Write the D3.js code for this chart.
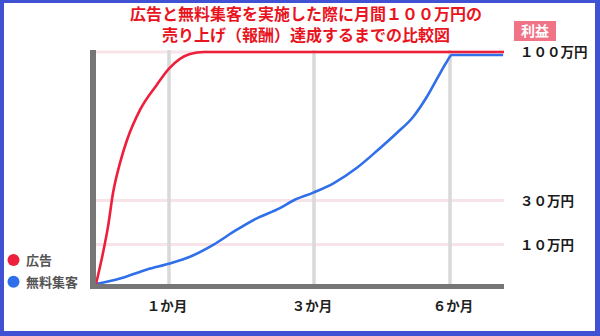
<!DOCTYPE html>
<html><head><meta charset="utf-8">
<script src="https://cdn.jsdelivr.net/npm/d3@7"></script>
<style>
html,body{margin:0;padding:0;background:#fff;}
svg{display:block;font-family:"Noto Sans CJK JP","Noto Sans",sans-serif;}
</style></head>
<body>
<svg id="c" width="600" height="336"></svg>
<script>
// ---- data ----
const titleLines = ["広告と無料集客を実施した際に月間１００万円の", "売り上げ（報酬）達成するまでの比較図"];
const seriesNames = ["広告", "無料集客"];
const xTickValues = [1, 3, 6];
const xTickLabels = ["１か月", "３か月", "６か月"];
const yTickValues = [10, 30, 100];
const yTickLabels = ["１０万円", "３０万円", "１００万円"];
const yAxisTitle = "利益";
// months, 万円
const adMonths =   [0, 0.096, 0.164, 0.233, 0.329, 0.425, 0.603, 0.832, 1.0, 1.29, 1.48, 7.2];
const adValues =   [0, 7.9, 18.0, 33.5, 47.7, 58.5, 72.7, 84.5, 92.2, 99.1, 100, 100];
const freeMonths = [0, 0.33, 0.70, 1.01, 1.29, 1.61, 1.93, 2.21, 2.53, 2.71, 2.99, 3.43, 3.94, 4.41, 4.82, 5.19, 5.49, 5.74, 5.93, 6.04, 7.18];
const freeValues = [0, 1.4, 3.7, 5.2, 6.9, 9.9, 16.6, 21.9, 26.5, 29.9, 33.7, 38.1, 45.3, 53.8, 61.7, 69.5, 78.9, 88.4, 95.4, 98.6, 98.6];

// ---- scales (illustrative, piecewise) ----
const x = d3.scaleLinear().domain([0, 1, 3, 6, 7.2]).range([96, 169, 314, 450, 504]);
const y = d3.scaleLinear().domain([0, 10, 30, 100]).range([284, 244.5, 200.5, 52]);

const svg = d3.select("#c");
const RED = "#ee1f3b", BLUE = "#2f6fea";

// horizontal pink guide lines
svg.append("g").selectAll("line").data(yTickValues).join("line")
  .attr("x1", 96).attr("x2", 504)
  .attr("y1", d => y(d)).attr("y2", d => y(d))
  .attr("stroke", "#f8e4e8").attr("stroke-width", 3);

// vertical grid lines
svg.append("g").selectAll("line").data(xTickValues).join("line")
  .attr("x1", d => x(d)).attr("x2", d => x(d))
  .attr("y1", 50).attr("y2", 284)
  .attr("stroke", "#d9d9d9").attr("stroke-width", 3.5);

// lines
const line = d3.line().x(d => x(d[0])).y(d => y(d[1])).curve(d3.curveMonotoneX);
svg.append("path").datum(d3.zip(freeMonths, freeValues))
  .attr("d", line).attr("fill", "none").attr("stroke", BLUE).attr("stroke-width", 2.6);
svg.append("path").datum(d3.zip(adMonths, adValues))
  .attr("d", line).attr("fill", "none").attr("stroke", RED).attr("stroke-width", 2.6);

// axes bars
svg.append("rect").attr("x", 90).attr("y", 50).attr("width", 6).attr("height", 239).attr("fill", "#767676");
svg.append("rect").attr("x", 90).attr("y", 284).attr("width", 414).attr("height", 5).attr("fill", "#767676");

// x tick labels
svg.append("g").selectAll("text").data(xTickValues).join("text")
  .attr("x", (d, i) => x(d) - 2 + (i === 2 ? 5 : 0)).attr("y", 311)
  .attr("text-anchor", "middle").attr("font-size", 13.5).attr("font-weight", 700)
  .attr("fill", "#222")
  .text((d, i) => xTickLabels[i]);

// y tick labels
svg.append("g").selectAll("text").data(yTickValues).join("text")
  .attr("x", 520).attr("y", d => y(d) + 5)
  .attr("font-size", 13.5).attr("font-weight", 700).attr("fill", "#1a1a1a")
  .text((d, i) => yTickLabels[i]);

// y axis title badge
svg.append("rect").attr("x", 514).attr("y", 21).attr("width", 42).attr("height", 20).attr("fill", "#f07386");
svg.append("text").attr("x", 535).attr("y", 36).attr("text-anchor", "middle")
  .attr("font-size", 14).attr("font-weight", 700).attr("fill", "#fff").text(yAxisTitle);

// title
svg.append("g").selectAll("text").data(titleLines).join("text")
  .attr("x", 306).attr("y", (d, i) => 19.5 + i * 21.5)
  .attr("text-anchor", "middle").attr("font-size", 16).attr("font-weight", 700)
  .attr("fill", "#e8141e")
  .attr("stroke", "#fff").attr("stroke-width", 2).attr("paint-order", "stroke")
  .text(d => d);

// legend
const legColors = [RED, BLUE];
const lg = svg.append("g").selectAll("g").data(seriesNames).join("g")
  .attr("transform", (d, i) => `translate(0,${260 + i * 21.7})`);
lg.append("circle").attr("cx", 13.5).attr("cy", 0).attr("r", 6).attr("fill", (d, i) => legColors[i]);
lg.append("text").attr("x", 26).attr("y", 5).attr("font-size", 13).attr("font-weight", 700)
  .attr("fill", "#555").text(d => d);

// frame
const FR = "#4151d3";
svg.append("rect").attr("x", 0).attr("y", 0).attr("width", 600).attr("height", 3).attr("fill", FR);
svg.append("rect").attr("x", 0).attr("y", 331).attr("width", 600).attr("height", 5).attr("fill", FR);
svg.append("rect").attr("x", 0).attr("y", 0).attr("width", 4).attr("height", 336).attr("fill", FR);
svg.append("rect").attr("x", 595).attr("y", 0).attr("width", 5).attr("height", 336).attr("fill", FR);
</script>
</body></html>
